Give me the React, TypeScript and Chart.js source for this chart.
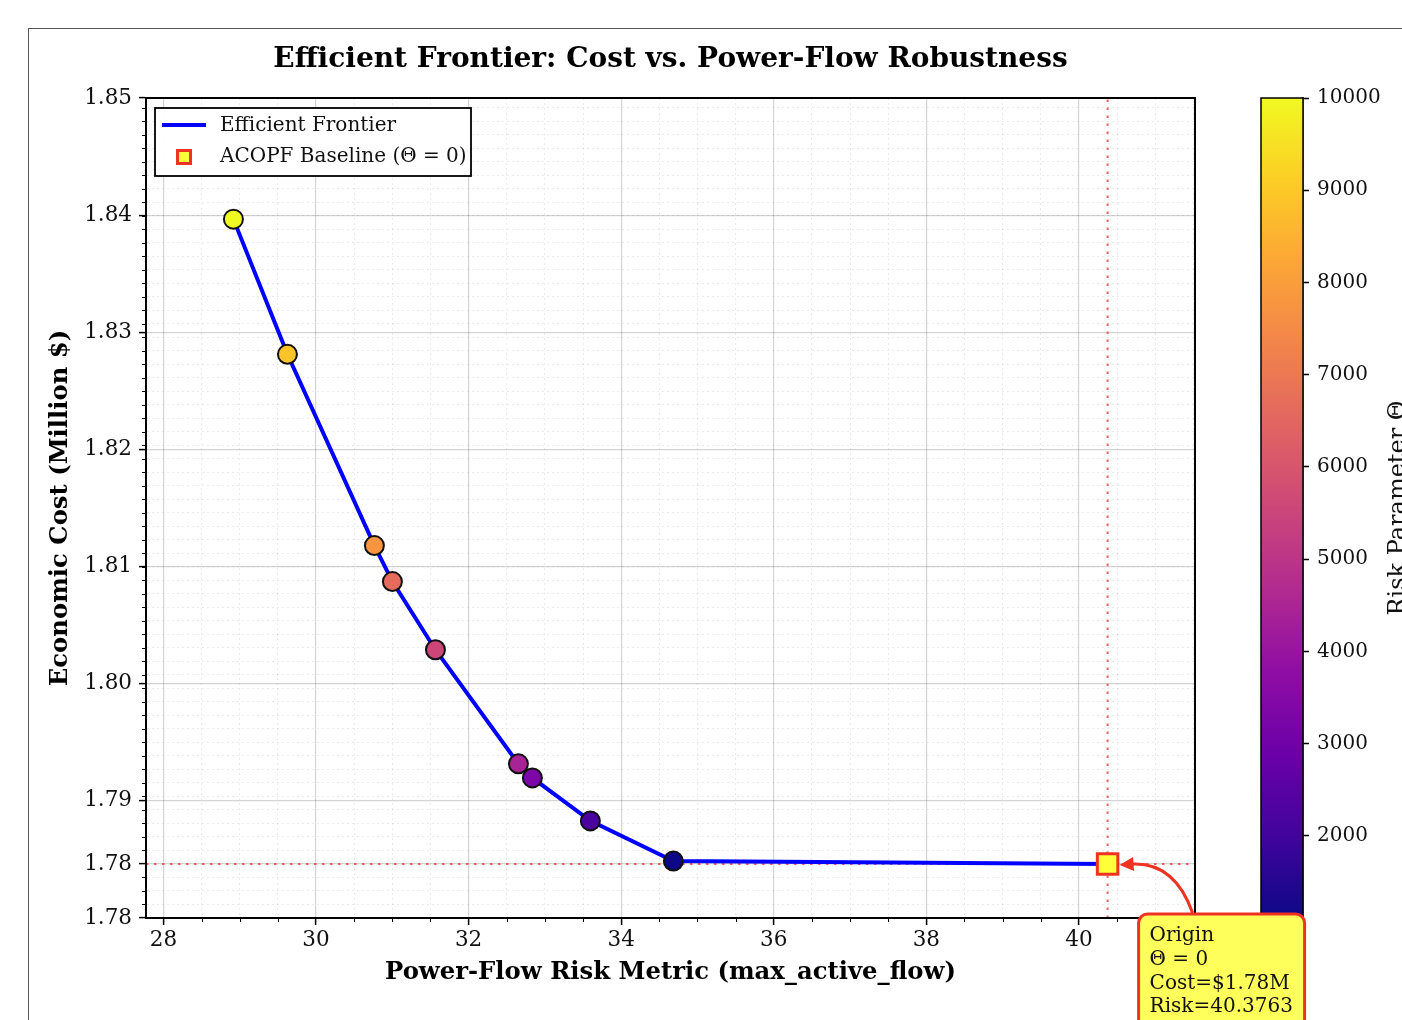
import React, { useEffect, useRef } from 'react';
import { Chart, registerables } from 'chart.js';

Chart.register(...registerables);

const FONT = "'DejaVu Serif', serif";

// ---- data ----
const RISK = [28.917, 29.625, 30.765, 31.001, 31.565, 32.653, 32.836, 33.596, 34.684];
const COST = [1.83966, 1.82812, 1.81179, 1.80872, 1.8029, 1.79316, 1.79196, 1.78829, 1.78486];
const THETA = [10000, 8888.9, 7777.8, 6666.7, 5555.6, 4444.4, 3333.3, 2222.2, 1111.1];
const ORIGIN_RISK = 40.3763;
const ORIGIN_COST = 1.78461;

const X_MIN = 27.771;
const X_MAX = 41.522;
const Y_MIN = 1.78;
const Y_MAX = 1.85;
const X_MAJOR_TICKS = [28, 30, 32, 34, 36, 38, 40];
const X_MINOR_STEP = 0.5;
const Y_MAJOR_TICKS = [1.78, 1.78461, 1.79, 1.8, 1.81, 1.82, 1.83, 1.84, 1.85];

const CB_MIN = 1111.1;
const CB_MAX = 10000;
const CB_TICKS = [2000, 3000, 4000, 5000, 6000, 7000, 8000, 9000, 10000];

const TITLE = 'Efficient Frontier: Cost vs. Power-Flow Robustness';
const X_LABEL = 'Power-Flow Risk Metric (max_active_flow)';
const Y_LABEL = 'Economic Cost (Million $)';
const CB_LABEL = 'Risk Parameter Θ';
const LINE_LABEL = 'Efficient Frontier';
const BASE_LABEL = 'ACOPF Baseline (Θ = 0)';
const ANNOT_LINES = ['Origin', 'Θ = 0', 'Cost=$1.78M', 'Risk=40.3763'];

const PLASMA = [
  '#0d0887', '#41049d', '#6a00a8', '#8f0da4', '#b12a90', '#cc4778',
  '#e16462', '#f2844b', '#fca636', '#fcce25', '#f0f921',
];

function hexToRgb(h: string) {
  const n = parseInt(h.slice(1), 16);
  return [(n >> 16) & 255, (n >> 8) & 255, n & 255];
}
function plasma(t: number) {
  const tt = Math.max(0, Math.min(1, t)) * (PLASMA.length - 1);
  const i = Math.min(Math.floor(tt), PLASMA.length - 2);
  const f = tt - i;
  const a = hexToRgb(PLASMA[i]);
  const b = hexToRgb(PLASMA[i + 1]);
  const c = a.map((v, k) => Math.round(v + (b[k] - v) * f));
  return `rgb(${c[0]},${c[1]},${c[2]})`;
}

type T = { value: number; mj: boolean };
function buildXTicks(): T[] {
  const out: T[] = X_MAJOR_TICKS.map((v) => ({ value: v, mj: true }));
  for (let v = X_MAJOR_TICKS[0]; v <= X_MAX; v += X_MINOR_STEP) {
    if (!X_MAJOR_TICKS.some((m) => Math.abs(m - v) < 1e-6)) out.push({ value: v, mj: false });
  }
  return out;
}
function buildYTicks(): T[] {
  const out: T[] = Y_MAJOR_TICKS.map((v) => ({ value: v, mj: true }));
  const step = (Y_MAJOR_TICKS[1] - Y_MAJOR_TICKS[0]) / 4;
  for (let k = 1; Y_MAJOR_TICKS[0] + k * step < Y_MAX - 1e-6; k++) {
    const v = Y_MAJOR_TICKS[0] + k * step;
    if (!Y_MAJOR_TICKS.some((m) => Math.abs(m - v) < 1e-5)) out.push({ value: v, mj: false });
  }
  return out;
}
const X_TICKS = buildXTicks();
const Y_TICKS = buildYTicks();

const MAJOR_GRID = 'rgba(0,0,0,0.17)';
const MINOR_GRID = 'rgba(0,0,0,0.08)';
const RED_DOT = 'rgba(235,60,60,0.8)';

const decorPlugin = {
  id: 'decor',
  afterDraw(chart: any) {
    const { ctx, chartArea: a, scales } = chart;
    const xs = scales.x;
    const ys = scales.y;
    ctx.save();
    // minor ticks
    ctx.strokeStyle = '#000';
    ctx.lineWidth = 1;
    ctx.beginPath();
    X_TICKS.filter((t) => !t.mj).forEach((t) => {
      const px = Math.round(xs.getPixelForValue(t.value)) + 0.5;
      ctx.moveTo(px, a.bottom);
      ctx.lineTo(px, a.bottom + 4);
    });
    Y_TICKS.filter((t) => !t.mj).forEach((t) => {
      const py = Math.round(ys.getPixelForValue(t.value)) + 0.5;
      ctx.moveTo(a.left - 4, py);
      ctx.lineTo(a.left, py);
    });
    ctx.stroke();
    // frame
    ctx.lineWidth = 2;
    ctx.strokeRect(a.left, a.top, a.right - a.left, a.bottom - a.top);

    // legend
    const lx = a.left + 9, ly = a.top + 10, lw = 316, lh = 68;
    ctx.fillStyle = 'rgba(255,255,255,0.92)';
    ctx.fillRect(lx, ly, lw, lh);
    ctx.lineWidth = 1.8;
    ctx.strokeStyle = '#000';
    ctx.strokeRect(lx, ly, lw, lh);
    const ds = chart.data.datasets;
    ctx.strokeStyle = '#0000ff';
    ctx.lineWidth = 4;
    ctx.beginPath();
    ctx.moveTo(lx + 7, ly + 17);
    ctx.lineTo(lx + 51, ly + 17);
    ctx.stroke();
    ctx.fillStyle = '#ffff3a';
    ctx.strokeStyle = '#ee3322';
    ctx.lineWidth = 3;
    ctx.fillRect(lx + 22.5, ly + 42.5, 13, 13);
    ctx.strokeRect(lx + 22.5, ly + 42.5, 13, 13);
    ctx.fillStyle = '#111';
    ctx.font = `20px ${FONT}`;
    ctx.textAlign = 'left';
    ctx.textBaseline = 'middle';
    ctx.fillText(ds[2].label, lx + 65, ly + 18);
    ctx.fillText(ds[0].label, lx + 65, ly + 49);

    // annotation arrow + box
    const ox = xs.getPixelForValue(ORIGIN_RISK);
    const oy = ys.getPixelForValue(ORIGIN_COST);
    const S = { x: ox + 85, y: oy + 49 };
    const E = { x: ox + 12, y: oy + 1 };
    const mx = (S.x + E.x) / 2, my = (S.y + E.y) / 2;
    const dx = E.x - S.x, dy = -(E.y - S.y);
    const rad = 0.38;
    const C = { x: mx + rad * dy, y: my + rad * dx };
    ctx.strokeStyle = '#ee3322';
    ctx.lineWidth = 3;
    const tdx = E.x - C.x, tdy = E.y - C.y;
    const tl = Math.hypot(tdx, tdy);
    const ux = tdx / tl, uy = tdy / tl;
    const headL = 14, headW = 7;
    const bx = E.x - ux * headL * 0.8, by = E.y - uy * headL * 0.8;
    ctx.beginPath();
    ctx.moveTo(S.x, S.y);
    ctx.quadraticCurveTo(C.x, C.y, bx, by);
    ctx.stroke();
    ctx.fillStyle = '#ee3322';
    ctx.beginPath();
    ctx.moveTo(E.x, E.y);
    ctx.lineTo(E.x - ux * headL - uy * headW, E.y - uy * headL + ux * headW);
    ctx.lineTo(E.x - ux * headL + uy * headW, E.y - uy * headL - ux * headW);
    ctx.closePath();
    ctx.fill();

    const bxl = ox + 31, byt = oy + 50, bw = 166, bh = 140, r = 9;
    ctx.beginPath();
    ctx.moveTo(bxl + r, byt);
    ctx.lineTo(bxl + bw - r, byt);
    ctx.arcTo(bxl + bw, byt, bxl + bw, byt + r, r);
    ctx.lineTo(bxl + bw, byt + bh - r);
    ctx.arcTo(bxl + bw, byt + bh, bxl + bw - r, byt + bh, r);
    ctx.lineTo(bxl + r, byt + bh);
    ctx.arcTo(bxl, byt + bh, bxl, byt + bh - r, r);
    ctx.lineTo(bxl, byt + r);
    ctx.arcTo(bxl, byt, bxl + r, byt, r);
    ctx.closePath();
    ctx.fillStyle = '#ffff5c';
    ctx.fill();
    ctx.lineWidth = 3;
    ctx.strokeStyle = '#ee3322';
    ctx.stroke();
    ctx.fillStyle = '#111';
    ctx.font = `20px ${FONT}`;
    ctx.textAlign = 'left';
    ctx.textBaseline = 'alphabetic';
    ANNOT_LINES.forEach((s, i) => ctx.fillText(s, bxl + 11, byt + 27 + i * 23.8));
    ctx.restore();
  },
};

const cbPlugin = {
  id: 'cbdecor',
  afterDraw(chart: any) {
    const { ctx, chartArea: a } = chart;
    ctx.save();
    ctx.strokeStyle = '#000';
    ctx.lineWidth = 1.5;
    ctx.strokeRect(a.left, a.top, a.right - a.left, a.bottom - a.top);
    ctx.translate(205, (a.top + a.bottom) / 2);
    ctx.rotate(-Math.PI / 2);
    ctx.fillStyle = '#111';
    ctx.font = `24px ${FONT}`;
    ctx.textAlign = 'center';
    ctx.textBaseline = 'alphabetic';
    ctx.fillText(CB_LABEL, 0, 0);
    ctx.restore();
  },
};

export default function App() {
  const mainRef = useRef<HTMLCanvasElement>(null);
  const cbRef = useRef<HTMLCanvasElement>(null);

  useEffect(() => {
    const frontier = RISK.map((x, i) => ({ x, y: COST[i] }));
    const pointColors = THETA.map((t) => plasma((t - CB_MIN) / (CB_MAX - CB_MIN)));
    const isMj = (c: any) => !!(c.tick && c.tick.mj);

    const main = new Chart(mainRef.current!, {
      type: 'scatter',
      data: {
        datasets: [
          {
            label: BASE_LABEL,
            data: [{ x: ORIGIN_RISK, y: ORIGIN_COST }],
            pointStyle: 'rect',
            pointRadius: 14.5,
            pointBackgroundColor: '#ffff3a',
            pointBorderColor: '#ee3322',
            pointBorderWidth: 3,
            order: 0,
          } as any,
          {
            label: 'Frontier points',
            data: frontier,
            pointRadius: 9.5,
            pointBackgroundColor: pointColors,
            pointBorderColor: '#111',
            pointBorderWidth: 2,
            order: 1,
          },
          {
            label: LINE_LABEL,
            data: [...frontier, { x: ORIGIN_RISK, y: ORIGIN_COST }],
            showLine: true,
            borderColor: '#0000ff',
            borderWidth: 4,
            pointRadius: 0,
            order: 2,
          },
          {
            label: 'h-ref',
            data: [{ x: X_MIN, y: ORIGIN_COST }, { x: X_MAX, y: ORIGIN_COST }],
            showLine: true,
            borderColor: RED_DOT,
            borderWidth: 2,
            borderDash: [2.5, 5.5],
            pointRadius: 0,
            order: 3,
          },
          {
            label: 'v-ref',
            data: [{ x: ORIGIN_RISK, y: Y_MIN }, { x: ORIGIN_RISK, y: Y_MAX }],
            showLine: true,
            borderColor: RED_DOT,
            borderWidth: 2,
            borderDash: [2.5, 5.5],
            pointRadius: 0,
            order: 3,
          },
        ],
      },
      options: {
        animation: false,
        responsive: false,
        maintainAspectRatio: false,
        layout: { padding: { left: 0, right: 207, top: 0, bottom: 0 } },
        plugins: {
          legend: { display: false },
          tooltip: { enabled: false },
          title: {
            display: true,
            text: TITLE,
            fullSize: false,
            color: '#000',
            font: { family: FONT, size: 28, weight: 'bold' },
            padding: { top: 43, bottom: 21.4 },
          },
        },
        scales: {
          x: {
            type: 'linear',
            min: X_MIN,
            max: X_MAX,
            bounds: 'data',
            afterBuildTicks: (s: any) => {
              s.ticks = X_TICKS.map((t) => ({ value: t.value, mj: t.mj }));
            },
            afterFit: (s: any) => {
              s.height = 102;
            },
            ticks: {
              autoSkip: false,
              maxRotation: 0,
              padding: 3,
              color: '#111',
              font: { family: FONT, size: 21.5 },
              callback: (v: any, i: number, ticks: any[]) => (ticks[i] && ticks[i].mj ? String(v) : ''),
            },
            grid: {
              color: (c: any) => (isMj(c) ? MAJOR_GRID : MINOR_GRID),
              lineWidth: (c: any) => (isMj(c) ? 1.2 : 1),
              tickColor: (c: any) => (isMj(c) ? '#000' : 'rgba(0,0,0,0)'),
              tickLength: 7,
              tickWidth: 1.5,
            },
            border: {
              display: true,
              color: '#000',
              width: 2,
              dash: (c: any) => (c.tick && !c.tick.mj ? [2, 3] : []),
            },
            title: {
              display: true,
              text: X_LABEL,
              color: '#000',
              font: { family: FONT, size: 24.3, weight: 'bold' },
              padding: { top: 0, bottom: 32.4 },
            },
          },
          y: {
            type: 'linear',
            min: Y_MIN,
            max: Y_MAX,
            bounds: 'data',
            afterBuildTicks: (s: any) => {
              s.ticks = Y_TICKS.map((t) => ({ value: t.value, mj: t.mj }));
            },
            afterFit: (s: any) => {
              s.width = 146;
            },
            ticks: {
              autoSkip: false,
              padding: 7,
              color: '#111',
              font: { family: FONT, size: 21.5 },
              callback: (v: any, i: number, ticks: any[]) =>
                ticks[i] && ticks[i].mj ? Number(v).toFixed(2) : '',
            },
            grid: {
              color: (c: any) => (isMj(c) ? MAJOR_GRID : MINOR_GRID),
              lineWidth: (c: any) => (isMj(c) ? 1.2 : 1),
              tickColor: (c: any) => (isMj(c) ? '#000' : 'rgba(0,0,0,0)'),
              tickLength: 7,
              tickWidth: 1.5,
            },
            border: {
              display: true,
              color: '#000',
              width: 2,
              dash: (c: any) => (c.tick && !c.tick.mj ? [2, 3] : []),
            },
            title: {
              display: true,
              text: Y_LABEL,
              color: '#000',
              font: { family: FONT, size: 24.3, weight: 'bold' },
              padding: { top: 46.4, bottom: 0 },
            },
          },
        },
      } as any,
      plugins: [decorPlugin],
    });

    const cb = new Chart(cbRef.current!, {
      type: 'bar',
      data: {
        labels: [''],
        datasets: [
          {
            data: [[CB_MIN, CB_MAX]] as any,
            backgroundColor: (c: any) => {
              const a = c.chart.chartArea;
              if (!a) return PLASMA[0];
              const g = c.chart.ctx.createLinearGradient(0, a.bottom, 0, a.top);
              PLASMA.forEach((col, i) => g.addColorStop(i / (PLASMA.length - 1), col));
              return g;
            },
            borderWidth: 0,
            barPercentage: 1,
            categoryPercentage: 1,
          },
        ],
      },
      options: {
        animation: false,
        responsive: false,
        maintainAspectRatio: false,
        layout: { padding: { left: 61, right: 0, top: 98, bottom: 102 } },
        plugins: { legend: { display: false }, tooltip: { enabled: false } },
        scales: {
          x: { type: 'category', display: false },
          y: {
            type: 'linear',
            position: 'right',
            min: CB_MIN,
            max: CB_MAX,
            bounds: 'data',
            afterBuildTicks: (s: any) => {
              s.ticks = CB_TICKS.map((v) => ({ value: v }));
            },
            afterFit: (s: any) => {
              s.width = 99;
            },
            ticks: {
              autoSkip: false,
              padding: 8,
              color: '#111',
              font: { family: FONT, size: 20 },
              callback: (v: any) => String(v),
            },
            grid: {
              drawOnChartArea: false,
              drawTicks: true,
              tickLength: 6,
              tickColor: '#000',
              tickWidth: 1.5,
            },
            border: { display: true, color: '#000', width: 1.5 },
          },
        },
      } as any,
      plugins: [cbPlugin],
    });

    return () => {
      main.destroy();
      cb.destroy();
    };
  }, []);

  return (
    <div style={{ position: 'fixed', left: 0, top: 0, width: 1402, height: 1020, background: '#fff', overflow: 'hidden' }}>
      <div
        style={{
          position: 'absolute',
          left: 28,
          top: 28,
          width: 1400,
          height: 1000,
          borderLeft: '1.5px solid #555',
          borderTop: '1.5px solid #555',
        }}
      />
      <canvas
        ref={cbRef}
        width={202}
        height={1020}
        style={{ position: 'absolute', left: 1200, top: 0, width: 202, height: 1020, zIndex: 1 }}
      />
      <canvas
        ref={mainRef}
        width={1402}
        height={1020}
        style={{ position: 'absolute', left: 0, top: 0, width: 1402, height: 1020, zIndex: 2 }}
      />
    </div>
  );
}
